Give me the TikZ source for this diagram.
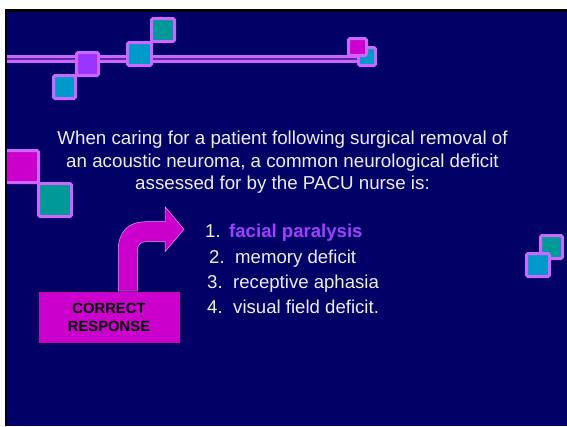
\documentclass[tikz,border=0pt]{standalone}
\usepackage{fontspec}
\setmainfont{Liberation Sans}
\definecolor{slate}{HTML}{000066}
\definecolor{lilac}{HTML}{CC66FF}
\definecolor{rail}{HTML}{5A2AA0}
\definecolor{violet}{HTML}{9933FF}
\definecolor{ocean}{HTML}{0099CC}
\definecolor{teal}{HTML}{009999}
\definecolor{orchid}{HTML}{CC00CC}
\definecolor{paper}{HTML}{EEEEF8}
\definecolor{pick}{HTML}{A040FF}
\tikzset{
  tile/.style={draw=lilac, line width=3pt, rounded corners=1.5pt},
  body/.style={text=paper, font=\fontsize{18.75}{22.5}\selectfont, inner sep=0pt, anchor=base},
  item/.style={text=paper, font=\fontsize{18.6}{22.5}\selectfont, inner sep=0pt, anchor=base west},
  tag/.style={fill=orchid, draw=slate!60!black, line width=0.6pt, minimum width=142pt, minimum height=52pt,
    align=center, font=\fontsize{14.8}{18}\selectfont\bfseries, text=black, inner sep=0pt},
  turnarrow/.style={fill=orchid, draw=orchid!40!white, line width=0.5pt, line join=miter}
}
\begin{document}
\begin{tikzpicture}[x=1pt, y=-1pt]
\useasboundingbox (0,0) rectangle (567,426);
% slide background
\fill[white] (0,0) rectangle (567,426);
\fill[black] (5,9) rectangle (567,426);
\fill[slate] (7,12) rectangle (567,426);

% rail across the top
\fill[lilac] (7,54.5) rectangle (360,62.5);
\fill[rail] (7,57.5) rectangle (360,59.5);

% tiles along the rail
\draw[tile, fill=ocean]  (53.5,75.5) rectangle (75.5,98.5);
\draw[tile, fill=violet] (76.5,52.5) rectangle (98.5,75.5);
\draw[tile, fill=teal]   (151.5,18.5) rectangle (174.5,41.5);
\draw[tile, fill=ocean]  (127.5,42.5) rectangle (151.5,65.5);
\draw[tile, fill=ocean]  (358.5,47.5) rectangle (375.5,65.5);
\draw[tile, fill=orchid] (348.5,38.5) rectangle (366.5,55.5);

% tiles on the left edge
\draw[tile, fill=orchid] (2,150.5) rectangle (38.5,182.5);
\draw[tile, fill=teal]   (38.5,183.5) rectangle (71.5,216.5);
\fill[white] (0,140) rectangle (5,200);
\fill[black] (5,140) rectangle (7,200);

% tiles on the right edge
\draw[tile, fill=teal]  (540.5,235.5) rectangle (562.5,258.5);
\draw[tile, fill=ocean] (526.5,253.5) rectangle (549.5,276.5);

% question
\node[body] (q1) at (282.5,144.3) {When caring for a patient following surgical removal of};
\node[body] (q2) at (282.5,167.3) {an acoustic neuroma, a common neurological deficit};
\node[body] (q3) at (282.5,189.0) {assessed for by the PACU nurse is:};

% choices
\node[item] (n1) at (205,237) {1.};
\node[item, text=pick, font=\fontsize{18.6}{22.5}\selectfont\bfseries] (a1) at (229,237) {facial paralysis};
\node[item] (n2) at (209,263) {2.};
\node[item] (a2) at (235,263) {memory deficit};
\node[item] (n3) at (207,288) {3.};
\node[item] (a3) at (233,288) {receptive aphasia};
\node[item] (n4) at (207,313) {4.};
\node[item] (a4) at (233,313) {visual field deficit.};

% answer tag with bent arrow
\node[tag] (tag) at (109,317) {CORRECT\\RESPONSE};
\draw[turnarrow] (118.3,291) -- (118.3,250)
  .. controls (118.3,232) and (128,221.7) .. (146,221.7)
  -- (165,221.7) -- (165,206.7) -- (184,229.3) -- (165,251.7) -- (165,241.7)
  -- (146,241.7) .. controls (140,241.7) and (137.3,245) .. (137.3,252)
  -- (137.3,291) -- cycle;
\end{tikzpicture}
\end{document}
